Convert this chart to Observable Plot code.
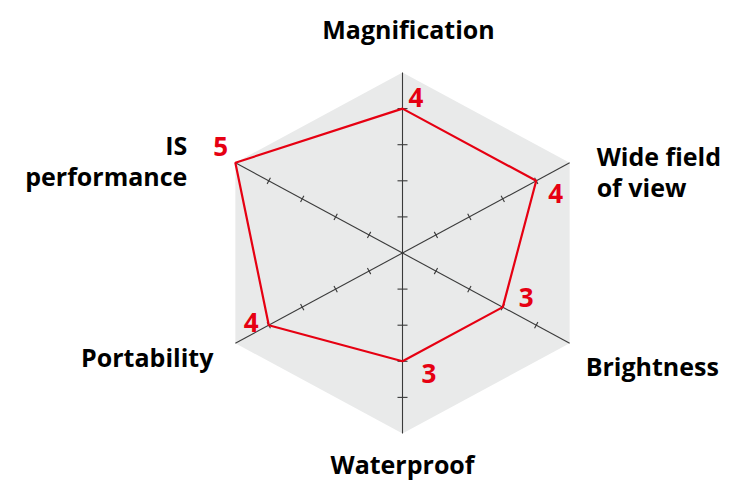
<!DOCTYPE html>
<html>
<head>
<meta charset="utf-8">
<script src="https://cdn.jsdelivr.net/npm/d3@7"></script>
<script src="https://cdn.jsdelivr.net/npm/@observablehq/plot@0.6"></script>
<style>
  html, body { margin: 0; padding: 0; background: #fff; }
  #chart svg { display: block; }
</style>
</head>
<body>
<div id="chart"></div>
<script>
// ---- data ----
const categories = ["Magnification", "Wide field\nof view", "Brightness", "Waterproof", "Portability", "IS\nperformance"];
const values = [4, 4, 3, 3, 4, 5];
const tickValues = [1, 2, 3, 4];
const maxValue = 5;

// ---- layout ----
const W = 732, H = 480;
const cx = 402, cy = 252.5;     // pixel centre
const kx = 38.6, ky = 36.1;     // pixels per unit
const xDomain = [-cx / kx, (W - cx) / kx];
const yDomain = [(cy - H) / ky, cy / ky];

// label offsets (pixels) relative to axis ends / data points
const catLayout = [
  {dx: 6,   dy: -43.5, anchor: "middle"},
  {dx: 27,  dy: 8.6,   anchor: "start"},
  {dx: 16,  dy: 23,    anchor: "start"},
  {dx: 0,   dy: 30.5,  anchor: "middle"},
  {dx: -22, dy: 14,    anchor: "end"},
  {dx: -48, dy: -2.4,  anchor: "end"}
];
const valLayout = [
  {dx: 6,   dy: -9.5},
  {dx: 12,  dy: 13.5},
  {dx: 16,  dy: -8},
  {dx: 19,  dy: 13.5},
  {dx: -25, dy: -2},
  {dx: -22, dy: -15.5}
];

const angle = i => i * Math.PI / 3;
const pt = (r, i) => ({x: r * Math.sin(angle(i)), y: r * Math.cos(angle(i))});

const hex = categories.map((c, i) => pt(maxValue, i));
const axes = categories.map((c, i) => ({x1: 0, y1: 0, x2: pt(maxValue, i).x, y2: pt(maxValue, i).y}));
const poly = values.map((v, i) => ({...pt(v, i), v, i}));
const catLabels = categories.map((c, i) => ({...pt(maxValue, i), text: c, i}));

const ticks = [];
categories.forEach((c, i) => {
  const a = angle(i);
  let ax = kx * Math.sin(a), ay = -ky * Math.cos(a);
  const n = Math.hypot(ax, ay); ax /= n; ay /= n;
  const half = (i % 3 === 0) ? 5 : 3.5;
  const px = -ay * half, py = ax * half;
  tickValues.forEach(t => {
    const p = pt(t, i);
    ticks.push({x1: p.x - px / kx, y1: p.y + py / ky, x2: p.x + px / kx, y2: p.y - py / ky});
  });
});

const red = "#e60012";
const font = "'Open Sans', 'DejaVu Sans', sans-serif";

const marks = [
  Plot.line(hex, {x: "x", y: "y", curve: "linear-closed", fill: "#e9eaea", stroke: "none"}),
  Plot.link(axes, {x1: "x1", y1: "y1", x2: "x2", y2: "y2", stroke: "#3a3a3a", strokeWidth: 1.1}),
  Plot.link(ticks, {x1: "x1", y1: "y1", x2: "x2", y2: "y2", stroke: "#3a3a3a", strokeWidth: 1.1}),
  Plot.line(poly, {x: "x", y: "y", curve: "linear-closed", stroke: red, strokeWidth: 2.2, strokeLinejoin: "miter"})
];
catLabels.forEach((d, i) => {
  marks.push(Plot.text([d], {
    x: "x", y: "y", text: "text",
    dx: catLayout[i].dx, dy: catLayout[i].dy,
    textAnchor: catLayout[i].anchor, lineHeight: 1.25,
    fontSize: 25, fontWeight: 700, fontFamily: font, fill: "#000"
  }));
});
poly.forEach((d, i) => {
  marks.push(Plot.text([d], {
    x: "x", y: "y", text: d => String(d.v),
    dx: valLayout[i].dx, dy: valLayout[i].dy,
    textAnchor: "start",
    fontSize: 26, fontWeight: 700, fontFamily: font, fill: red
  }));
});

const chart = Plot.plot({
  width: W, height: H,
  margin: 0,
  x: {domain: xDomain, axis: null},
  y: {domain: yDomain, axis: null},
  style: {background: "#fff", fontFamily: font},
  marks
});
document.getElementById("chart").append(chart);
</script>
</body>
</html>
